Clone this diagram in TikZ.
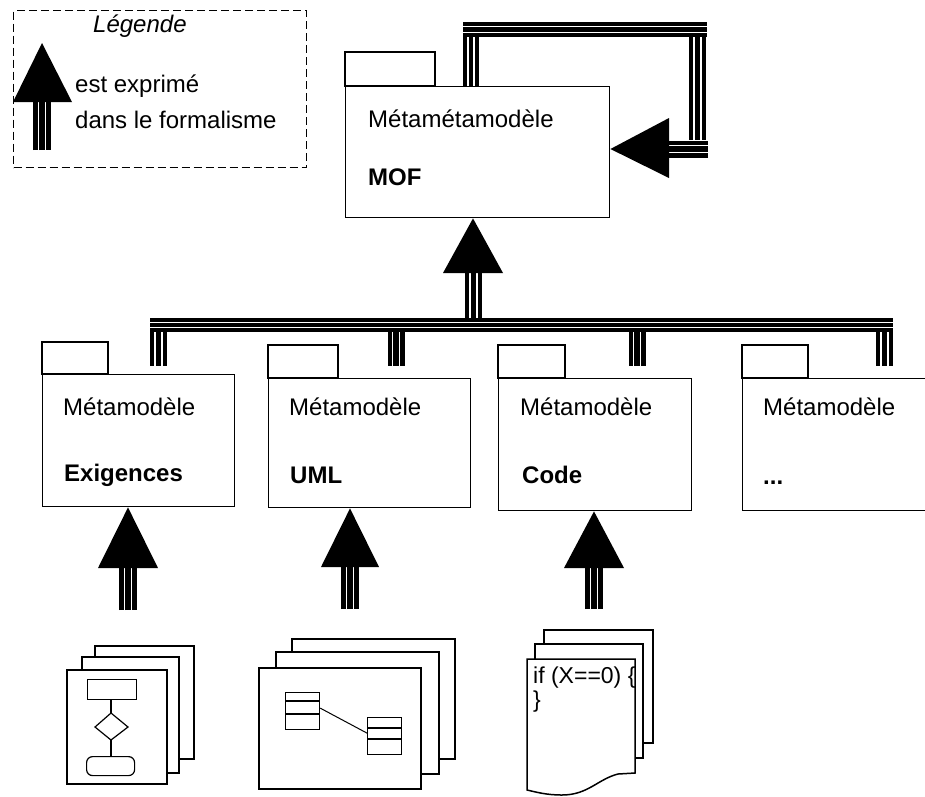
\documentclass[tikz,border=0pt]{standalone}
\usepackage{fontspec}
\setmainfont{Liberation Sans}
\begin{document}
\begin{tikzpicture}[x=1pt,y=-1pt,
  triple/.style={line width=#1pt, draw=black,
    postaction={draw=white, line width=#1*0.48pt},
    postaction={draw=black, line width=#1*0.3pt}},
  triple/.default=17,
  pkg/.style={draw, line width=1.4pt, anchor=north west, inner sep=0pt, fill=white},
  tabbox/.style={draw, line width=1.4pt},
  txt/.style={anchor=base west, inner sep=0pt, font=\fontsize{24}{28}\selectfont},
  btxt/.style={anchor=base west, inner sep=0pt, font=\fontsize{24}{28}\selectfont\bfseries},
  ctxt/.style={anchor=base west, inner sep=0pt, font=\fontsize{23}{27}\selectfont},
  page/.style={draw, fill=white, line width=1.5pt},
  inner/.style={draw, line width=1.2pt},
  head/.style={fill=black}
]
\useasboundingbox (0,0) rectangle (925,796);
\clip (0,0) rectangle (925,796);

% ---------------- Legend ----------------
\node[draw, dash pattern=on 8pt off 4pt, line width=1.3pt, anchor=north west,
      minimum width=293pt, minimum height=157pt, inner sep=0pt] (legend) at (13,10) {};
\node[txt, font=\fontsize{24}{28}\selectfont\itshape] (legtitle) at (93,32) {Légende};
\node[txt] (leg1) at (75,92) {est exprimé};
\node[txt] (leg2) at (75,128) {dans le formalisme};
\coordinate (legbot) at (42,150);
\coordinate (legbase) at (42,102);
\draw[triple=18] (legbot) -- (legbase);
\fill[head] (13,102) -- (72,102) -- (42,43) -- cycle;

% ---------------- MOF ----------------
\draw[tabbox] (345,86) rectangle (435,52);
\node[pkg, minimum width=264pt, minimum height=131pt] (mof) at (345,86) {};
\node[txt] (mofA) at (368,127) {Métamétamodèle};
\node[btxt] (mofB) at (368,185) {MOF};

% self loop
\coordinate (l1) at (471,86);
\coordinate (l2) at (471,37);
\coordinate (l3) at (697.5,37);
\coordinate (l4) at (697.5,140);
\draw[triple=16] (l1) -- (l2);
\draw[triple=15] (463,29.5) -- (707,29.5);
\draw[triple=17] (l3) -- (l4);
\draw[triple=17] (708,149) -- (669,149);
\fill[head] (669,118) -- (669,178) -- (mof.east |- 0,149) -- cycle;

% ---------------- Metamodels ----------------
\draw[tabbox] (42,374) rectangle (108,342);
\node[pkg, minimum width=192pt, minimum height=132pt] (ex) at (42,374) {};
\node[txt] at (63,415) {Métamodèle};
\node[btxt] at (64,481) {Exigences};

\draw[tabbox] (268,378) rectangle (338,345);
\node[pkg, minimum width=202pt, minimum height=129pt] (uml) at (268,378) {};
\node[txt] at (289,415) {Métamodèle};
\node[btxt] at (290,483) {UML};

\draw[tabbox] (498,378) rectangle (565,345);
\node[pkg, minimum width=193pt, minimum height=132pt] (code) at (498,378) {};
\node[txt] at (520,415) {Métamodèle};
\node[btxt] at (522,483) {Code};

\draw[tabbox] (742,378) rectangle (808,345);
\node[pkg, minimum width=200pt, minimum height=132pt] (etc) at (742,378) {};
\node[txt] at (763,415) {Métamodèle};
\node[btxt] at (763,484) {...};

% bus
\coordinate (busL) at (150,325);
\coordinate (busR) at (893,325);
\draw[triple=14] (busL) -- (busR);
\foreach \x in {158.5,396,637,884.5} \draw[triple=17] (\x,332) -- (\x,366);
\draw[triple=17] (473.5,318) -- (473.5,273);
\fill[head] (443,273) -- (503,273) -- (mof.south -| 473,0) -- cycle;

% ---------------- Bottom arrows ----------------
\draw[triple=18] (128,610) -- (128,568);
\fill[head] (98,568) -- (158,568) -- (ex.south -| 128,0) -- cycle;
\draw[triple=18] (350,609) -- (350,567);
\fill[head] (321,567) -- (379,567) -- (uml.south -| 350,0) -- cycle;
\draw[triple=18] (594,609) -- (594,568);
\fill[head] (564,568) -- (624,568) -- (code.south -| 594,0) -- cycle;

% ---------------- Documents ----------------
% flowchart
\draw[page] (95,646) rectangle (194,759);
\draw[page] (82,657) rectangle (179,773);
\draw[page] (67,670) rectangle (167,784);
\node[inner, anchor=north west, minimum width=49pt, minimum height=20pt, inner sep=0pt] (fr) at (87,679) {};
\node[inner, anchor=north west, minimum width=48pt, minimum height=19pt, inner sep=0pt, rounded corners=6pt] (fe) at (86,756) {};
\coordinate (dt) at (111,713);
\coordinate (db) at (111,740);
\draw[inner] (95,727) -- (dt) -- (128,727) -- (db) -- cycle;
\draw[inner] (fr.south -| dt) -- (dt);
\draw[inner] (db) -- (fe.north -| db);

% UML
\draw[page] (292,639) rectangle (455,759);
\draw[page] (276,652) rectangle (439,774);
\draw[page] (259,668) rectangle (421,789);
\node[inner, anchor=north west, minimum width=34pt, minimum height=37pt, inner sep=0pt] (c1) at (285,692) {};
\draw[inner] (285,701) -- (319,701) (285,714) -- (319,714);
\node[inner, anchor=north west, minimum width=34pt, minimum height=37pt, inner sep=0pt] (c2) at (367,717) {};
\draw[inner] (367,728) -- (401,728) (367,739) -- (401,739);
\draw[line width=1pt] ([yshift=3pt]c1.east) -- ([yshift=3pt]c2.west);

% code
\draw[page] (544,630) rectangle (653,743);
\draw[page] (535,644) rectangle (643,758);
\draw[page] (527,659) -- (635,659) -- (635,773) -- (618,774)
  .. controls (598,779) and (588,795) .. (562,795)
  .. controls (546,795) and (536,792) .. (527,790) -- cycle;
\node[ctxt] (if) at (533,683) {if (X==0) \{};
\node[ctxt] (cl) at (533,707) {\}};
\end{tikzpicture}
\end{document}
